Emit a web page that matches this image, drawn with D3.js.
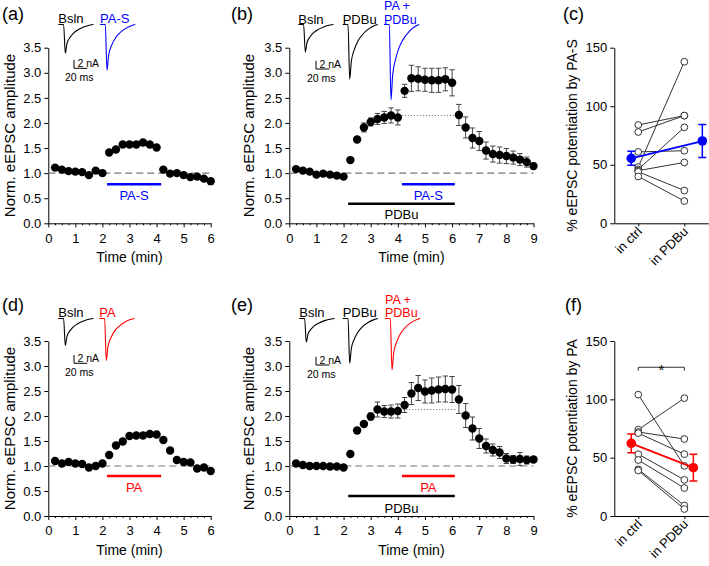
<!DOCTYPE html>
<html><head><meta charset="utf-8">
<script src="https://cdn.jsdelivr.net/npm/d3@7"></script>
<style>
body{margin:0;background:#fff}
svg{display:block}
text{font-family:"Liberation Sans",Arial,Helvetica,sans-serif}
</style>
</head><body>
<svg id="chart" width="709" height="566"></svg>
<script>
// ---------------- DATA ----------------
const times6 = [0.25,0.5,0.75,1,1.25,1.5,1.75,2,2.25,2.5,2.75,3,3.25,3.5,3.75,4,4.25,4.5,4.75,5,5.25,5.5,5.75,6];
const times9 = [0.25,0.5,0.75,1,1.25,1.5,1.75,2,2.25,2.5,2.75,3,3.25,3.5,3.75,4,4.25,4.5,4.75,5,5.25,5.5,5.75,6,
                6.25,6.5,6.75,7,7.25,7.5,7.75,8,8.25,8.5,8.75,9];

const ampA = [1.11,1.07,1.04,1.03,1.02,0.96,1.05,1.00, 1.41,1.47,1.57,1.57,1.57,1.61,1.57,1.51, 1.07,0.99,1.00,0.96,0.92,0.93,0.89,0.84];
const ampD = [1.10,1.05,1.08,1.05,1.04,0.97,1.00,1.05, 1.22,1.41,1.49,1.60,1.61,1.61,1.64,1.63, 1.52,1.31,1.12,1.08,1.07,0.95,0.97,0.90];

const ampB = [1.08,1.05,1.03,0.97,0.99,0.97,0.95,0.93, 1.26,1.67,1.91,2.02,2.08,2.11,2.15,2.11,
              2.64,2.89,2.88,2.86,2.85,2.85,2.87,2.80, 2.16,1.91,1.70,1.64,1.45,1.38,1.36,1.34,1.31,1.27,1.22,1.14];
const errB = [0.02,0.02,0.02,0.02,0.02,0.02,0.02,0.02, 0.03,0.04,0.09,0.08,0.11,0.12,0.15,0.15,
              0.13,0.26,0.24,0.23,0.24,0.24,0.23,0.26, 0.21,0.21,0.20,0.19,0.17,0.16,0.16,0.15,0.13,0.12,0.10,0.06];

const ampE = [1.05,1.02,1.00,1.00,1.00,0.99,0.99,0.97, 1.24,1.71,1.84,1.99,2.13,2.09,2.09,2.10,
              2.22,2.45,2.56,2.49,2.51,2.53,2.54,2.53, 2.33,2.01,1.75,1.55,1.40,1.32,1.27,1.15,1.13,1.14,1.12,1.13];
const errE = [0.02,0.02,0.02,0.02,0.02,0.02,0.02,0.02, 0.03,0.04,0.05,0.07,0.15,0.12,0.13,0.14,
              0.15,0.22,0.25,0.23,0.25,0.25,0.26,0.26, 0.28,0.24,0.23,0.20,0.14,0.12,0.12,0.10,0.08,0.13,0.08,0.06];

const yTicksAmp = [0,0.5,1,1.5,2,2.5,3,3.5];
const xTicks6 = [0,1,2,3,4,5,6];
const xTicks9 = [0,1,2,3,4,5,6,7,8,9];
const xMinor6 = [0.25,0.5,0.75,1.25,1.5,1.75,2.25,2.5,2.75,3.25,3.5,3.75,4.25,4.5,4.75,5.25,5.5,5.75];
const xMinor9 = [0.25,0.5,0.75,1.25,1.5,1.75,2.25,2.5,2.75,3.25,3.5,3.75,4.25,4.5,4.75,5.25,5.5,5.75,
                 6.25,6.5,6.75,7.25,7.5,7.75,8.25,8.5,8.75];

// paired data (% potentiation)
const pairCats = ["in ctrl","in PDBu"];
const ctrlC = [84, 78, 61, 48, 46, 45, 44, 40];
const pdbuC = [92, 92, 62, 138, 82, 52, 28, 19];
const meanC = [55.5, 70.3];
const semC  = [6, 14];
const ctrlF = [104, 74, 72, 71, 53, 48, 40, 39];
const pdbuF = [43, 101, 66, 53, 31, 24, 9, 6];
const meanF = [62.3, 41.4];
const semF  = [8, 11.5];
const yTicksPct = [0,50,100,150];

// inset EPSC trace shape (ms, normalized current)
const traceMs    = [-8, 0, 2.5, 5, 10, 15, 20, 30, 40, 45];
const traceShape = [0, 0, -1, -0.67, -0.44, -0.30, -0.21, -0.09, -0.02, 0];
// peak amplitudes (nA)
const peaksA = [6.9, 11.0];
const peaksB = [6.6, 13.2, 18.2];
const peaksD = [6.5, 10.1];
const peaksE = [5.7, 10.8, 12.4];

// ---------------- STYLE ----------------
const BLUE = "#0000ff", RED = "#ff0000", BLACK = "#000";
const svg = d3.select("#chart");
const TICKFS = 13, TITLEFS = 14;

function styleAxis(sel){
  sel.attr("font-family",null).attr("font-size",null);
  sel.selectAll("path.domain").attr("stroke","#000").attr("stroke-width",1);
  sel.selectAll(".tick line").attr("stroke","#000");
  sel.selectAll(".tick text").attr("font-size",TICKFS).attr("fill","#000");
}

function panelLabel(txt,x,y){
  svg.append("text").attr("x",x).attr("y",y).attr("font-size",18).text(txt);
}

function timePanel(o){
  const x = d3.scaleLinear().domain([0,o.tmax]).range([o.x0,o.x1]);
  const y = d3.scaleLinear().domain([0,3.5]).range([o.yBot,o.yTop]);
  const g = svg.append("g");

  g.append("g").attr("transform",`translate(${o.x0},0)`)
    .call(d3.axisLeft(y).tickValues(yTicksAmp).tickFormat(d3.format(".1f")).tickSize(4).tickSizeOuter(0).tickPadding(3))
    .call(styleAxis);
  g.append("g").attr("transform",`translate(0,${o.yBot})`)
    .call(d3.axisBottom(x).tickValues(o.xTicks).tickFormat(d3.format("d")).tickSize(4).tickSizeOuter(0).tickPadding(6))
    .call(styleAxis);
  g.append("g").attr("transform",`translate(0,${o.yBot})`)
    .call(d3.axisBottom(x).tickValues(o.xMinor).tickFormat("").tickSize(2).tickSizeOuter(0))
    .call(s=>{s.select(".domain").remove(); s.selectAll(".tick line").attr("stroke","#000");});

  g.append("text").attr("x",(o.x0+o.x1)/2).attr("y",o.yBot+38.5).attr("text-anchor","middle")
    .attr("font-size",TITLEFS).text("Time (min)");
  g.append("text").attr("transform",`translate(${o.yTitleX},${(o.yTop+o.yBot)/2}) rotate(-90)`)
    .attr("text-anchor","middle").attr("font-size",15).text("Norm. eEPSC amplitude");

  g.append("line").attr("x1",x(0)).attr("x2",x(o.tmax)).attr("y1",y(1)).attr("y2",y(1))
    .attr("stroke","#777").attr("stroke-width",1.2).attr("stroke-dasharray","7,4");
  if(o.dotted){
    g.append("line").attr("x1",x(o.dotted[0])).attr("x2",x(o.dotted[1])).attr("y1",y(o.dotted[2])).attr("y2",y(o.dotted[2]))
      .attr("stroke","#666").attr("stroke-width",1).attr("stroke-dasharray","1,2");
  }
  o.bars.forEach(b=>{
    g.append("line").attr("x1",x(b.t0)).attr("x2",x(b.t1)).attr("y1",y(b.v)).attr("y2",y(b.v))
      .attr("stroke",b.color).attr("stroke-width",2.6);
    g.append("text").attr("x",x((b.t0+b.t1)/2)).attr("y",y(b.v)+b.dy).attr("text-anchor","middle")
      .attr("font-size",TICKFS).attr("fill",b.color).text(b.label);
  });
  if(o.errs){
    const eg = g.append("g").attr("stroke","#444").attr("stroke-width",1);
    o.times.forEach((t,i)=>{
      const v=o.vals[i], e=o.errs[i];
      eg.append("line").attr("x1",x(t)).attr("x2",x(t)).attr("y1",y(v-e)).attr("y2",y(v+e));
      eg.append("line").attr("x1",x(t)-2.7).attr("x2",x(t)+2.7).attr("y1",y(v+e)).attr("y2",y(v+e));
      eg.append("line").attr("x1",x(t)-2.7).attr("x2",x(t)+2.7).attr("y1",y(v-e)).attr("y2",y(v-e));
    });
  }
  g.selectAll("circle.pt").data(o.times).join("circle").attr("class","pt")
    .attr("cx",t=>x(t)).attr("cy",(t,i)=>y(o.vals[i])).attr("r",4.2).attr("fill","#000");

  const ms = d3.scaleLinear().domain([0,20]).range([0,13.3]);
  const nA = d3.scaleLinear().domain([0,2]).range([0,8.3]);
  o.traces.forEach(tr=>{
    const line = d3.line().x(d=>tr.x0+ms(d[0]+8)).y(d=>o.traceBase + nA(-d[1]*tr.peak)).curve(d3.curveMonotoneX);
    g.append("path").attr("d",line(traceMs.map((m,i)=>[m,traceShape[i]])))
      .attr("fill","none").attr("stroke",tr.color).attr("stroke-width",1.1);
    const lines = Array.isArray(tr.name)?tr.name:[tr.name];
    lines.forEach((s,k)=>{
      g.append("text").attr("x",tr.x0).attr("y",o.traceText - (lines.length-1-k)*13.8)
        .attr("font-size",lines.length>1?12.5:TICKFS).attr("fill",tr.color).text(s);
    });
  });
  const sb = o.scaleBar;
  g.append("path").attr("d",`M${sb.x},${sb.y-nA(2)}V${sb.y}H${sb.x+ms(20)}`)
    .attr("fill","none").attr("stroke","#000").attr("stroke-width",1);
  g.append("text").attr("x",sb.x+3.5).attr("y",sb.y-1).attr("font-size",10.5).text("2 nA");
  g.append("text").attr("x",sb.x-9).attr("y",sb.y+12.5).attr("font-size",10.5).text("20 ms");
}

function pairPanel(o){
  const x = d3.scalePoint().domain(pairCats).range([614.3,708.3]).padding(0.52);
  const y = d3.scaleLinear().domain([0,150]).range([o.yBot,o.yTop]);
  const g = svg.append("g");
  g.append("g").attr("transform",`translate(614.3,0)`)
    .call(d3.axisLeft(y).tickValues(yTicksPct).tickSize(4).tickSizeOuter(0).tickPadding(3))
    .call(styleAxis);
  const xa = g.append("g").attr("transform",`translate(0,${o.yBot})`)
    .call(d3.axisBottom(x).tickSize(3).tickSizeOuter(0))
    .call(styleAxis);
  xa.selectAll(".tick text").attr("text-anchor","end").attr("dy",null).attr("y",null)
    .attr("transform","translate(4,9) rotate(-45)");
  g.append("text").attr("transform",`translate(577,${(o.yTop+o.yBot)/2}) rotate(-90)`)
    .attr("text-anchor","middle").attr("font-size",TITLEFS).text(o.title);

  o.ctrl.forEach((c,i)=>{
    g.append("line").attr("x1",x(pairCats[0])).attr("x2",x(pairCats[1]))
      .attr("y1",y(c)).attr("y2",y(o.pdbu[i])).attr("stroke","#333").attr("stroke-width",1);
  });
  o.ctrl.forEach((c,i)=>{
    g.append("circle").attr("cx",x(pairCats[0])).attr("cy",y(c)).attr("r",3.4)
      .attr("fill","#fff").attr("stroke","#333").attr("stroke-width",1);
    g.append("circle").attr("cx",x(pairCats[1])).attr("cy",y(o.pdbu[i])).attr("r",3.4)
      .attr("fill","#fff").attr("stroke","#333").attr("stroke-width",1);
  });
  const mx = [x(pairCats[0])+o.meanOff[0], x(pairCats[1])+o.meanOff[1]];
  g.append("line").attr("x1",mx[0]).attr("x2",mx[1]).attr("y1",y(o.mean[0])).attr("y2",y(o.mean[1]))
    .attr("stroke",o.color).attr("stroke-width",1.8);
  o.mean.forEach((m,i)=>{
    const e=o.sem[i];
    g.append("path").attr("d",`M${mx[i]-4},${y(m+e)}H${mx[i]+4}M${mx[i]},${y(m+e)}V${y(m-e)}M${mx[i]-4},${y(m-e)}H${mx[i]+4}`)
      .attr("stroke",o.color).attr("stroke-width",1.5).attr("fill","none");
    g.append("circle").attr("cx",mx[i]).attr("cy",y(m)).attr("r",4.8).attr("fill",o.color);
  });
  if(o.sig){
    const yy = y(o.sig);
    g.append("path").attr("d",`M${x(pairCats[0])},${yy+3.5}V${yy}H${x(pairCats[1])}V${yy+3.5}`)
      .attr("fill","none").attr("stroke","#333").attr("stroke-width",1);
    g.append("text").attr("x",(x(pairCats[0])+x(pairCats[1]))/2).attr("y",yy+8).attr("text-anchor","middle")
      .attr("font-size",15).text("*");
  }
}

// ---------------- PANELS ----------------
panelLabel("(a)",2,19.5);
panelLabel("(b)",231,19.5);
panelLabel("(c)",563,19.5);
panelLabel("(d)",2,310.5);
panelLabel("(e)",231,310.5);
panelLabel("(f)",565,310.5);

timePanel({x0:48.3,x1:210.7,tmax:6,yTop:47.7,yBot:223.3,yTitleX:14.5,
  xTicks:xTicks6,xMinor:xMinor6,times:times6,vals:ampA,
  bars:[{t0:2.17,t1:4.17,v:0.777,color:BLUE,label:"PA-S",dy:15.5}],
  traceBase:24.5,traceText:23,
  traces:[{name:"Bsln",x0:58.3,peak:peaksA[0],color:BLACK},{name:"PA-S",x0:100,peak:peaksA[1],color:BLUE}],
  scaleBar:{x:74,y:68.3}});

timePanel({x0:289.3,x1:533.5,tmax:9,yTop:47.7,yBot:223.3,yTitleX:254,
  xTicks:xTicks9,xMinor:xMinor9,times:times9,vals:ampB,errs:errB,dotted:[4.15,6.15,2.15],
  bars:[{t0:4.15,t1:6.1,v:0.777,color:BLUE,label:"PA-S",dy:15.5},{t0:2.17,t1:6.1,v:0.39,color:BLACK,label:"PDBu",dy:15.5}],
  traceBase:24.5,traceText:23.5,
  traces:[{name:"Bsln",x0:298.3,peak:peaksB[0],color:BLACK},{name:"PDBu",x0:342.7,peak:peaksB[1],color:BLACK},
          {name:["PA +","PDBu"],x0:384,peak:peaksB[2],color:BLUE}],
  scaleBar:{x:316,y:69}});

timePanel({x0:48.3,x1:210.7,tmax:6,yTop:341,yBot:516,yTitleX:14.5,
  xTicks:xTicks6,xMinor:xMinor6,times:times6,vals:ampD,
  bars:[{t0:2.17,t1:4.17,v:0.8,color:RED,label:"PA",dy:16}],
  traceBase:318.5,traceText:317.3,
  traces:[{name:"Bsln",x0:58.3,peak:peaksD[0],color:BLACK},{name:"PA",x0:99.3,peak:peaksD[1],color:RED}],
  scaleBar:{x:74,y:363.3}});

timePanel({x0:289.3,x1:533.5,tmax:9,yTop:341,yBot:516,yTitleX:254,
  xTicks:xTicks9,xMinor:xMinor9,times:times9,vals:ampE,errs:errE,dotted:[4.2,6.15,2.13],
  bars:[{t0:4.15,t1:6.1,v:0.8,color:RED,label:"PA",dy:16},{t0:2.17,t1:6.1,v:0.4,color:BLACK,label:"PDBu",dy:16.5}],
  traceBase:318.5,traceText:317.3,
  traces:[{name:"Bsln",x0:299.3,peak:peaksE[0],color:BLACK},{name:"PDBu",x0:342.7,peak:peaksE[1],color:BLACK},
          {name:["PA +","PDBu"],x0:385,peak:peaksE[2],color:RED}],
  scaleBar:{x:316,y:365}});

pairPanel({yTop:47.7,yBot:223.3,title:"% eEPSC potentiation by PA-S",ctrl:ctrlC,pdbu:pdbuC,
  mean:meanC,sem:semC,color:BLUE,meanOff:[-7,18]});
pairPanel({yTop:341,yBot:516,title:"% eEPSC potentiation by PA",ctrl:ctrlF,pdbu:pdbuF,
  mean:meanF,sem:semF,color:RED,meanOff:[-7,9],sig:127.5});
</script>
</body></html>
